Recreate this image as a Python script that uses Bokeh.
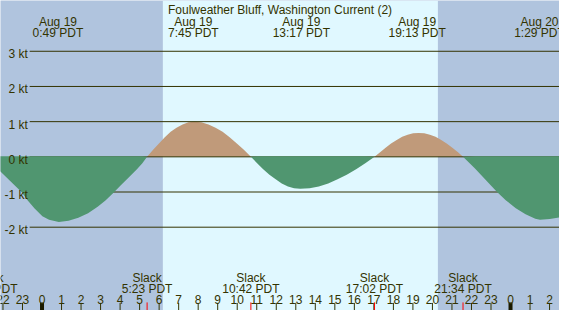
import numpy as np
from bokeh.plotting import figure
from bokeh.models import Range1d
from bokeh.core.properties import value
from bokeh.embed import file_html
from bokeh.resources import INLINE

# ---------------- data ----------------
title_text = "Foulweather Bluff, Washington Current (2)"

# current (knots), hours from Aug 19 00:00 PDT
curve_hours = [-2.90, -2.13, -1.63, -1.05, -0.73, -0.38, 0.02, 0.36, 0.86, 1.36,
               1.86, 2.36, 2.85, 3.25, 3.65, 4.05, 4.35, 4.85, 5.14, 5.383,
               5.69, 5.99, 6.29, 6.59, 6.89, 7.20, 7.50, 7.80,
               8.16, 8.53, 8.89, 9.25, 9.61, 9.98, 10.34, 10.70,
               11.02, 11.33, 11.65, 11.97, 12.28, 12.60, 12.91, 13.23,
               13.71, 14.18, 14.66, 15.14, 15.61, 16.09, 16.56, 17.033,
               17.32, 17.60, 17.88, 18.17, 18.45, 18.73, 19.01, 19.29,
               19.58, 19.87, 20.16, 20.45, 20.73, 21.02, 21.31, 21.567,
               22.18, 22.78, 23.31, 23.77, 24.27, 24.77, 25.27, 25.51, 26.01, 26.51]
curve_knots = [0.00, -0.42, -0.69, -1.00, -1.24, -1.47, -1.69, -1.79, -1.85, -1.82,
               -1.73, -1.60, -1.42, -1.24, -1.03, -0.80, -0.64, -0.36, -0.18, 0.00,
               0.20, 0.38, 0.56, 0.71, 0.83, 0.92, 0.98, 1.00,
               0.98, 0.92, 0.83, 0.71, 0.56, 0.38, 0.20, 0.00,
               -0.18, -0.35, -0.51, -0.64, -0.76, -0.84, -0.89, -0.91,
               -0.89, -0.84, -0.76, -0.64, -0.51, -0.35, -0.18, 0.00,
               0.13, 0.26, 0.38, 0.48, 0.57, 0.63, 0.67, 0.68,
               0.67, 0.63, 0.57, 0.48, 0.38, 0.26, 0.13, 0.00,
               -0.33, -0.69, -1.00, -1.24, -1.46, -1.63, -1.76, -1.79, -1.77, -1.72]

max_hours = [0.817, 7.75, 13.283, 19.217, 25.483]
max_dates = ["Aug 19", "Aug 19", "Aug 19", "Aug 19", "Aug 20"]
max_times = ["0:49 PDT", "7:45 PDT", "13:17 PDT", "19:13 PDT", "1:29 PDT"]

slack_hours = [-2.72, 5.383, 10.70, 17.033, 21.567]
slack_times = ["21:17 PDT", "5:23 PDT", "10:42 PDT", "17:02 PDT", "21:34 PDT"]

sunrise_hour = 6.19
sunset_hour = 20.28

kt_levels = [-2, -1, 0, 1, 2, 3]
kt_labels = ["-2 kt", "-1 kt", "0 kt", "1 kt", "2 kt", "3 kt"]

hour_ticks = list(range(-2, 27))
hour_labels = [str(h % 24) for h in hour_ticks]

# ---------------- style ----------------
NIGHT = "#b0c4de"
DAY = "#e0f8ff"
FLOOD = "#c09a7a"
EBB = "#509670"
DARK = "#333300"
FONT = value("Liberation Sans")
FS = "12px"

W, H = 559, 310
# reference layout: 20.08 px per hour, 37 px per knot, 0h at x=42.7, 0 kt at y=164.4
PXH, PXK = 20.08, 37.0
T0 = -42.7 / PXH
T1 = T0 + 575 / PXH
V1 = 164.4 / PXK
V0 = V1 - 326 / PXK


def rx(xr):
    return T0 + xr / PXH


def ry(yr):
    return V1 - yr / PXK


p = figure(width=W, height=H, x_range=Range1d(T0, T1), y_range=Range1d(V0, V1),
           output_backend="svg", toolbar_location=None, min_border=0,
           x_axis_type=None, y_axis_type=None,
           background_fill_color=NIGHT, border_fill_color=NIGHT,
           outline_line_color=None)
p.grid.visible = False

# daylight
p.quad(left=[sunrise_hour], right=[sunset_hour], bottom=[V0], top=[V1],
       fill_color=DAY, line_color=None)

h = np.array(curve_hours)
k = np.array(curve_knots)

# flood
p.varea(x=h, y1=np.zeros_like(k), y2=np.maximum(k, 0), fill_color=FLOOD)

# knot lines
p.segment(x0=[rx(30)] * len(kt_levels), x1=[T1] * len(kt_levels),
          y0=kt_levels, y1=kt_levels, line_color=DARK, line_width=1)

# ebb
eps = 0.7 / PXK
p.varea(x=h, y1=np.minimum(k, 0), y2=np.where(k < 0, eps, 0.0), fill_color=EBB)

# knot labels
p.text(x=[rx(28)] * len(kt_levels), y=[lv - 3 / PXK for lv in kt_levels], text=kt_labels,
       text_align="right", text_baseline="alphabetic", text_font=FONT,
       text_font_size=FS, text_color=DARK)

# hour ticks
reg = [t for t in hour_ticks if t % 24 != 0]
mid = [t for t in hour_ticks if t % 24 == 0]
p.segment(x0=reg, x1=reg, y0=[ry(318)] * len(reg), y1=[V0] * len(reg),
          line_color=DARK, line_width=1)
p.segment(x0=mid, x1=mid, y0=[ry(317.5)] * len(mid), y1=[V0] * len(mid),
          line_color="#1a1a00", line_width=4)
p.segment(x0=slack_hours, x1=slack_hours, y0=[ry(317.5)] * len(slack_hours),
          y1=[V0] * len(slack_hours), line_color="#ff0000", line_width=1)

p.text(x=hour_ticks, y=[ry(314)] * len(hour_ticks), text=hour_labels,
       text_align="center", text_baseline="alphabetic", text_font=FONT,
       text_font_size=FS, text_color=DARK)

# slack labels
p.text(x=slack_hours, y=[ry(291.3)] * len(slack_hours), text=["Slack"] * len(slack_hours),
       text_align="center", text_baseline="alphabetic", text_font=FONT,
       text_font_size=FS, text_color=DARK)
p.text(x=slack_hours, y=[ry(303.3)] * len(slack_hours), text=slack_times,
       text_align="center", text_baseline="alphabetic", text_font=FONT,
       text_font_size=FS, text_color=DARK)

# max labels
p.text(x=max_hours, y=[ry(23)] * len(max_hours), text=max_dates,
       text_align="center", text_baseline="alphabetic", text_font=FONT,
       text_font_size=FS, text_color=DARK)
p.text(x=max_hours, y=[ry(34.7)] * len(max_hours), text=max_times,
       text_align="center", text_baseline="alphabetic", text_font=FONT,
       text_font_size=FS, text_color=DARK)

# title
p.text(x=[(T0 + T1) / 2], y=[ry(10)], text=[title_text],
       text_align="center", text_baseline="alphabetic", text_font=FONT,
       text_font_size=FS, text_color=DARK)

open("out.html", "w").write(file_html(p, INLINE))
